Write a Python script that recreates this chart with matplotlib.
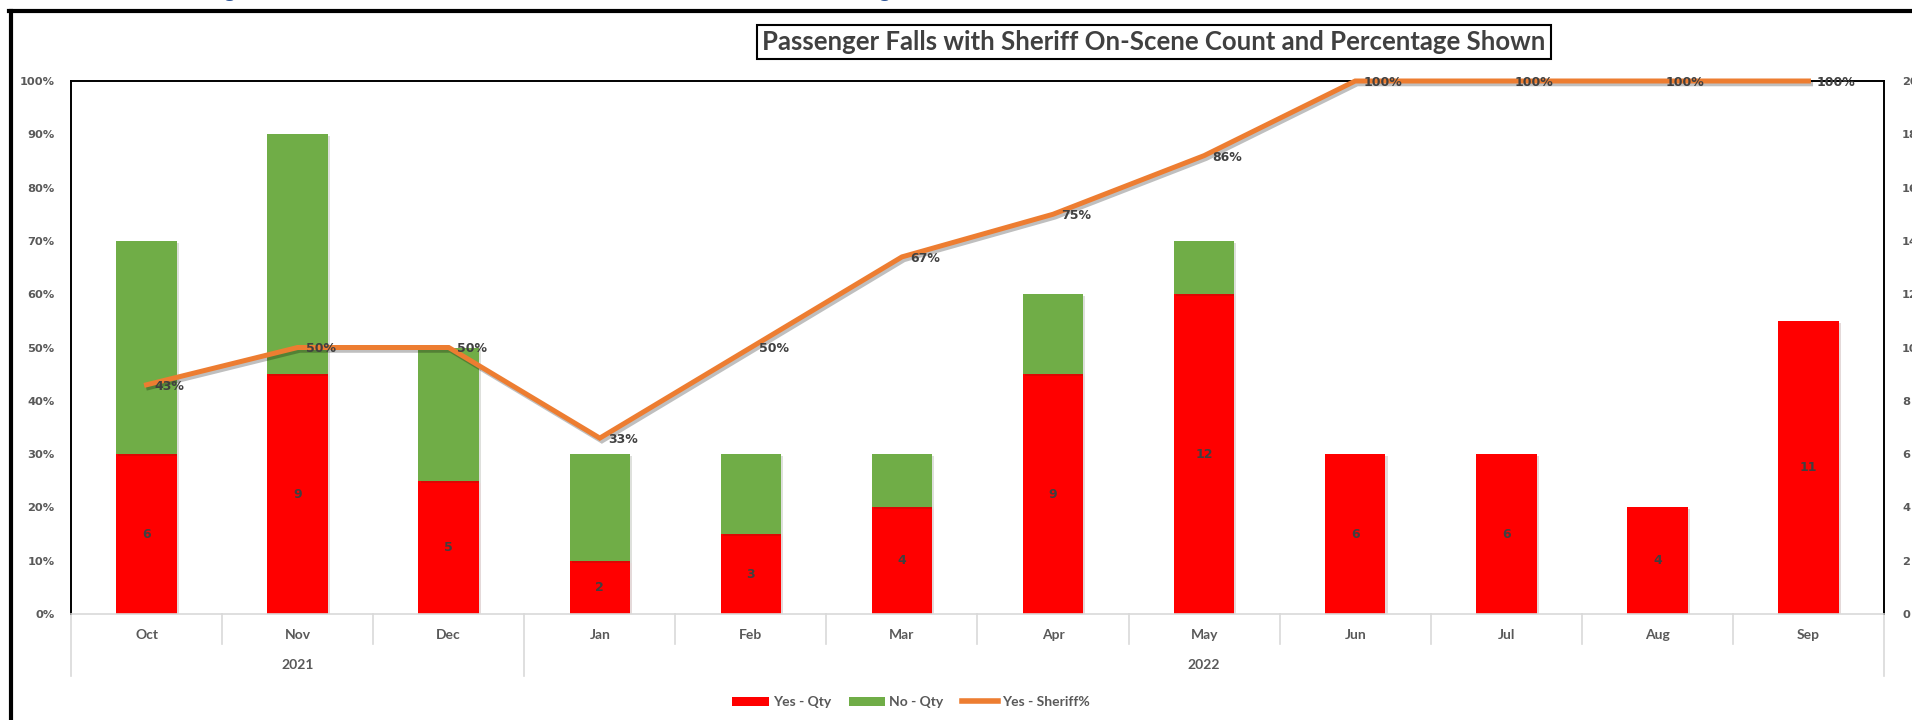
import numpy as np
import matplotlib.pyplot as plt
import matplotlib.patheffects as pe
from matplotlib.lines import Line2D
from matplotlib.patches import Patch

# data
months = ['Oct', 'Nov', 'Dec', 'Jan', 'Feb', 'Mar', 'Apr', 'May', 'Jun', 'Jul', 'Aug', 'Sep']
years = ['2021', '2022']
year_spans = [(0, 3), (3, 12)]   # month index ranges for each year
yes_qty = [6, 9, 5, 2, 3, 4, 9, 12, 6, 6, 4, 11]
no_qty = [8, 9, 5, 4, 3, 2, 3, 2, 0, 0, 0, 0]
sheriff_pct = [43, 50, 50, 33, 50, 67, 75, 86, 100, 100, 100, 100]
pct_ticks = list(range(0, 101, 10))
qty_ticks = list(range(0, 21, 2))

title = 'Passenger Falls with Sheriff On-Scene Count and Percentage Shown'

W, H = 1912, 720
fig = plt.figure(figsize=(W / 100, H / 100), dpi=100)
fig.patch.set_facecolor('white')

# plot area in pixels
L, R, T, B = 71, 1884, 81, 614
ax = fig.add_axes([L / W, 1 - B / H, (R - L) / W, (B - T) / H])
ax2 = ax.twinx()

gray = '#595959'
dark = '#404040'
x = np.arange(len(months))
bar_w = 0.4

shadow = [pe.SimplePatchShadow(offset=(1.5, -1.5), alpha=0.15), pe.Normal()]
ax.bar(x, yes_qty, bar_w, color='#FF0000', path_effects=shadow, zorder=2)
ax.bar(x, no_qty, bar_w, bottom=yes_qty, color='#70AD47', path_effects=shadow, zorder=2)

for xi, v in zip(x, yes_qty):
    ax.text(xi, v / 2, str(v), ha='center', va='center', color=dark,
            fontsize=9, fontweight='bold', zorder=3)

ax.set_xlim(-0.5, len(months) - 0.5)
ax.set_ylim(0, 20)
ax.set_yticks(qty_ticks)
ax.yaxis.tick_right()
ax.tick_params(axis='y', length=0, pad=13, labelsize=8.2, labelcolor=gray)
for lab in ax.get_yticklabels():
    lab.set_fontweight('bold')
ax.set_xticks([])

for s in ['left', 'top', 'right']:
    ax.spines[s].set_color('black')
    ax.spines[s].set_linewidth(1.4)
ax.spines['bottom'].set_color('#D9D9D9')
ax.spines['bottom'].set_linewidth(1.2)

# line on the percentage axis
ax2.plot(x, sheriff_pct, color='#ED7D31', lw=3.6, clip_on=False, zorder=4,
         solid_joinstyle='miter',
         path_effects=[pe.SimpleLineShadow(offset=(1.5, -2), shadow_color='black', alpha=0.25),
                       pe.Normal()])
for xi, p in zip(x, sheriff_pct):
    ax2.annotate(f'{p}%', (xi, p), xytext=(6, -1), textcoords='offset points',
                 ha='left', va='center', color=dark, fontsize=9, fontweight='bold',
                 zorder=5, annotation_clip=False)

ax2.set_ylim(0, 100)
ax2.set_yticks(pct_ticks)
ax2.set_yticklabels([f'{v}%' for v in pct_ticks])
ax2.yaxis.tick_left()
ax2.tick_params(axis='y', length=0, pad=12, labelsize=8.2, labelcolor=gray)
for lab in ax2.get_yticklabels():
    lab.set_fontweight('bold')
for s in ax2.spines.values():
    s.set_visible(False)

# multi-level category axis
tr = ax.get_xaxis_transform()
h_ax = B - T
month_y = -(635 - B) / h_ax
year_y = -(665 - B) / h_ax
sep_short = -(644 - B) / h_ax
sep_long = -(676 - B) / h_ax
sep_col = '#D9D9D9'

for xi, m in zip(x, months):
    ax.text(xi, month_y, m, transform=tr, ha='center', va='center',
            fontsize=10, color=gray, family='Lato', fontweight='bold')

group_edges = set()
for (a, b) in year_spans:
    group_edges.add(a)
    group_edges.add(b)
for i in range(len(months) + 1):
    y_end = sep_long if i in group_edges else sep_short
    ax.plot([i - 0.5, i - 0.5], [0, y_end], transform=tr, color=sep_col,
            lw=1.2, clip_on=False)

for yr, (a, b) in zip(years, year_spans):
    ax.text((a + b - 1) / 2, year_y, yr, transform=tr, ha='center', va='center',
            fontsize=10, color=gray, family='Lato', fontweight='bold')

# legend
handles = [Patch(facecolor='#FF0000', label='Yes - Qty'),
           Patch(facecolor='#70AD47', label='No - Qty'),
           Line2D([0], [0], color='#ED7D31', lw=4, label='Yes - Sheriff%')]
leg = fig.legend(handles=handles, loc='center', bbox_to_anchor=(911 / W, 1 - 702 / H),
                 ncol=3, frameon=False, handlelength=2.6, handleheight=0.6,
                 handletextpad=0.3, columnspacing=1.3,
                 prop={'family': 'Lato', 'size': 10, 'weight': 'bold'})
for t in leg.get_texts():
    t.set_color(gray)

# title in a boxed frame
fig.text(1154 / W, 1 - 42 / H, title, ha='center', va='center', fontsize=18.5,
         fontweight='bold', color=dark, family='Lato',
         bbox=dict(boxstyle='square,pad=0.2', fc='white', ec='black', lw=1.5))

# screenshot frame: thick black edges at left and top
fig.add_artist(Line2D([11 / W, 11 / W], [0, 1 - 11 / H], transform=fig.transFigure,
                      color='black', lw=3))
fig.add_artist(Line2D([9 / W, 1], [1 - 11 / H, 1 - 11 / H], transform=fig.transFigure,
                      color='black', lw=3))

# cut-off blue text above the frame
for gx in [229, 884]:
    fig.text(gx / W, 1 + 3 / H, 'g', ha='center', va='baseline', fontsize=16,
             color='#2F5597', family='Lato')

fig.savefig('out.png', dpi=100)
